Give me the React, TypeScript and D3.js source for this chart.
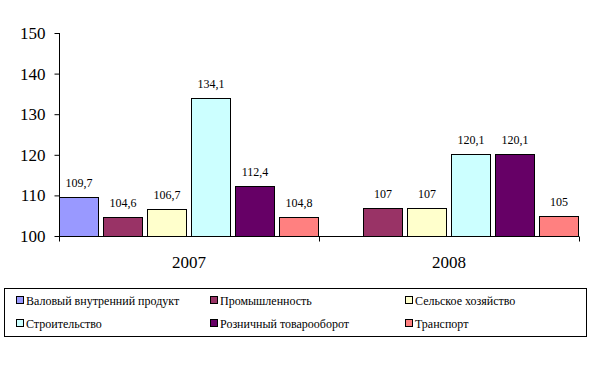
import React, { useEffect, useRef } from 'react';
import * as d3 from 'd3';

const years = ['2007', '2008'];
const seriesNames = [
  'Валовый внутренний продукт',
  'Промышленность',
  'Сельское хозяйство',
  'Строительство',
  'Розничный товарооборот',
  'Транспорт',
];
const seriesColors = ['#9999FF', '#993366', '#FFFFCC', '#CCFFFF', '#660066', '#FF8080'];
// values[seriesIndex][yearIndex]; null = no bar
const values: (number | null)[][] = [
  [109.7, null],
  [104.6, 107],
  [106.7, 107],
  [134.1, 120.1],
  [112.4, 120.1],
  [104.8, 105],
];
const yTicks = [100, 110, 120, 130, 140, 150];

const fmt = (v: number) => String(v).replace('.', ',');

const App: React.FC = () => {
  const svgRef = useRef<SVGSVGElement>(null);

  useEffect(() => {
    if (!svgRef.current) return;
    const svg = d3.select(svgRef.current);
    svg.selectAll('*').remove();

    const plot = { left: 59, right: 579, top: 33, bottom: 236 };
    const font = "'Liberation Serif', 'DejaVu Serif', serif";

    const x0 = d3.scaleBand().domain(years).range([plot.left, plot.right]).padding(0);
    const x1 = d3.scaleBand<number>()
      .domain(d3.range(seriesNames.length))
      .range([0, x0.bandwidth()])
      .paddingInner(1 / 11)
      .paddingOuter(0);
    const y = d3.scaleLinear().domain([100, 150]).range([plot.bottom, plot.top]);

    // Bars
    const groups = svg.append('g');
    values.forEach((row, si) => {
      row.forEach((v, yi) => {
        if (v == null) return;
        const bx = (x0(years[yi]) || 0) + (x1(si) || 0);
        groups.append('rect')
          .attr('x', bx + 0.5)
          .attr('y', Math.round(y(v)) + 0.5)
          .attr('width', x1.bandwidth() - 1)
          .attr('height', Math.round(y(100)) - Math.round(y(v)))
          .attr('fill', seriesColors[si])
          .attr('stroke', '#000')
          .attr('stroke-width', 1);
        groups.append('text')
          .attr('x', bx + x1.bandwidth() / 2)
          .attr('y', y(v) - 10)
          .attr('text-anchor', 'middle')
          .style('font-family', font)
          .style('font-size', '12px')
          .attr('fill', '#000')
          .text(fmt(v));
      });
    });

    // Y axis
    const yAxis = svg.append('g')
      .attr('transform', `translate(${plot.left + 0.5},0)`)
      .call(d3.axisLeft(y).tickValues(yTicks).tickSize(5).tickPadding(9));
    yAxis.attr('font-family', null).attr('font-size', null);
    yAxis.select('.domain').attr('stroke', '#000').attr('d', `M0,${plot.top}V${plot.bottom + 0.5}`);
    yAxis.selectAll('line').attr('stroke', '#000');
    yAxis.selectAll('text')
      .style('font-family', font)
      .style('font-size', '17px')
      .attr('fill', '#000');

    // X axis
    const xAxisG = svg.append('g').attr('transform', `translate(0,${plot.bottom + 0.5})`);
    xAxisG.append('line')
      .attr('x1', plot.left).attr('x2', plot.right)
      .attr('stroke', '#000');
    const edges = [plot.left, ...years.map(yr => (x0(yr) || 0) + x0.bandwidth())];
    xAxisG.selectAll('.tk').data(edges).enter().append('line')
      .attr('x1', d => Math.round(d) + 0.5).attr('x2', d => Math.round(d) + 0.5)
      .attr('y1', 0).attr('y2', 5)
      .attr('stroke', '#000');
    xAxisG.selectAll('.yl').data(years).enter().append('text')
      .attr('x', d => (x0(d) || 0) + x0.bandwidth() / 2)
      .attr('y', 31)
      .attr('text-anchor', 'middle')
      .style('font-family', font)
      .style('font-size', '17px')
      .attr('fill', '#000')
      .text(d => d);

    // Legend
    const legend = svg.append('g');
    legend.append('rect')
      .attr('x', 4.5).attr('y', 288.5)
      .attr('width', 582).attr('height', 48)
      .attr('fill', '#fff').attr('stroke', '#000');
    const colX = [16, 210, 405];
    const rowY = [301, 324];
    seriesNames.forEach((name, i) => {
      const cx = colX[i % 3];
      const cy = rowY[Math.floor(i / 3)];
      legend.append('rect')
        .attr('x', cx + 0.5).attr('y', cy - 4.5)
        .attr('width', 7).attr('height', 7)
        .attr('fill', seriesColors[i]).attr('stroke', '#000');
      legend.append('text')
        .attr('x', cx + 10)
        .attr('y', cy + 4)
        .style('font-family', font)
        .style('font-size', '12px')
        .attr('fill', '#000')
        .text(name);
    });
  }, []);

  return (
    <svg
      ref={svgRef}
      width={595}
      height={373}
      style={{ position: 'absolute', left: 0, top: 0, background: '#fff', fontFamily: 'serif' }}
    />
  );
};

export default App;
